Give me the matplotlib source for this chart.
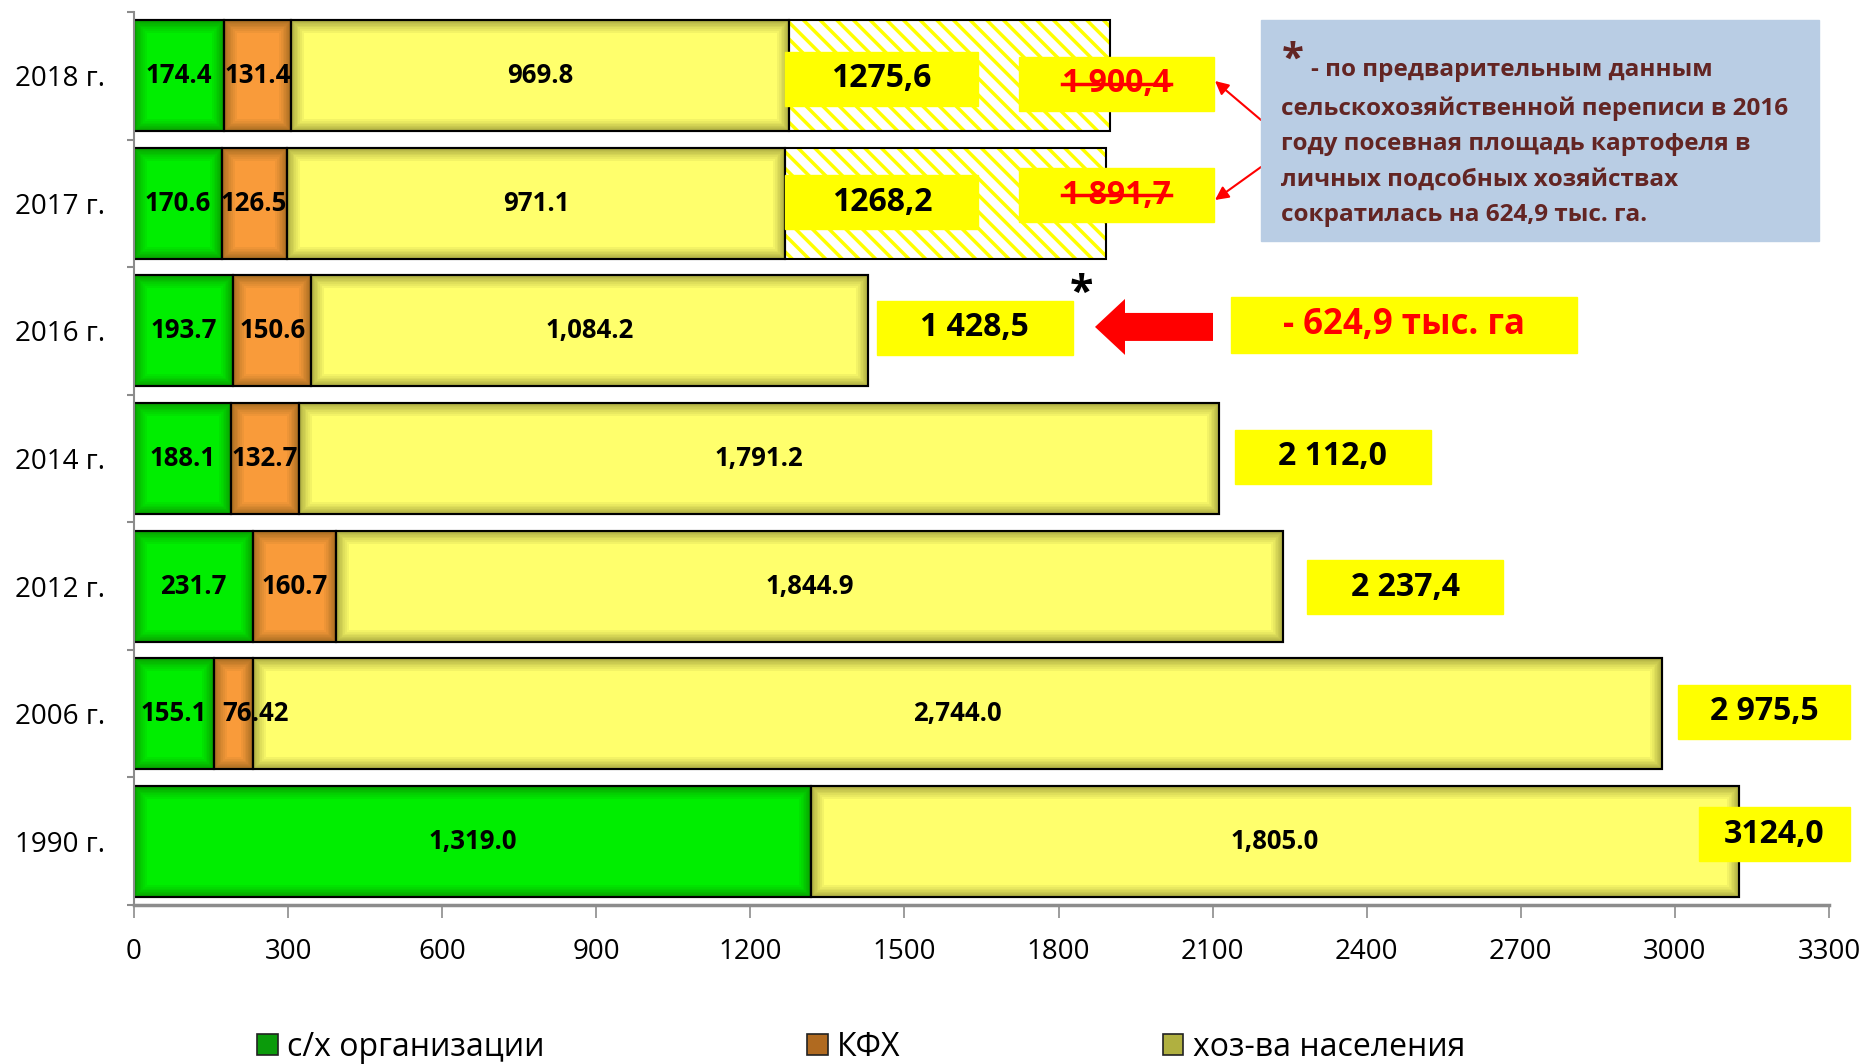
import numpy as np
import matplotlib
matplotlib.use('Agg')
import matplotlib.pyplot as plt
from matplotlib.patches import Rectangle, FancyArrow, Patch
from matplotlib.lines import Line2D
from matplotlib.transforms import IdentityTransform

plt.rcParams['font.family'] = ['Open Sans', 'DejaVu Sans']
plt.rcParams['hatch.linewidth'] = 2.5

# ---- data (bottom row first) ----
years = ['1990 г.', '2006 г.', '2012 г.', '2014 г.', '2016 г.', '2017 г.', '2018 г.']
agro_org = [1319.0, 155.1, 231.7, 188.1, 193.7, 170.6, 174.4]
kfh = [0.0, 76.42, 160.7, 132.7, 150.6, 126.5, 131.4]
households = [1805.0, 2744.0, 1844.9, 1791.2, 1084.2, 971.1, 969.8]
total_labels = ['3124,0', '2 975,5', '2 237,4', '2 112,0', '1 428,5', '1268,2', '1275,6']

# totals before the 2016 census correction
old_years = ['2017 г.', '2018 г.']
old_totals = [1891.7, 1900.4]
old_labels = ['1 891,7', '1 900,4']

drop_label = '- 624,9 тыс. га'
legend_names = ['с/х организации', 'КФХ', 'хоз-ва населения']
xticks = list(range(0, 3301, 300))
note_lines = ['сельскохозяйственной переписи в 2016',
              'году посевная площадь картофеля в',
              'личных подсобных хозяйствах',
              'сократилась на 624,9 тыс. га.']

# ---- style ----
W, H = 1874, 1064
green, orange, yellow = '#00ee00', '#f99b3a', '#ffff6c'
grey = '#8c8c8c'
bh = 0.87
# label boxes: offset from bar end (px), width (px), vertical shift (px, down)
lab_dx = [-40, 16, 24, 16, 9, 0, -4]
lab_w = [151, 172, 196, 196, 196, 193, 193]
lab_dy = [-7, -2, 1, -2, -3, -1, 3]
old_dx = [-87, -91]
old_dy = [-8, 8]
box_h = 54

fig = plt.figure(figsize=(W / 100, H / 100), dpi=100)
ax = fig.add_axes([134 / W, 1 - 905 / H, (1829 - 134) / W, (905 - 12) / H])
ax.set_xlim(0, 3300)
ax.set_ylim(-0.5, len(years) - 0.5)

y = np.arange(len(years))
a = np.array(agro_org)
k = np.array(kfh)
hh = np.array(households)
tot = a + k + hh

b1 = ax.barh(y, a, height=bh, color=green, edgecolor='black', lw=1.5, zorder=2)
b2 = ax.barh(y, k, left=a, height=bh, color=orange, edgecolor='black', lw=1.5, zorder=2)
b3 = ax.barh(y, hh, left=a + k, height=bh, color=yellow, edgecolor='black', lw=1.5, zorder=2)

# soft inner shadow like the original
for bars in (b1, b2, b3):
    for p in bars:
        if p.get_width() <= 0:
            continue
        for lw in (18, 15, 12, 10, 8, 6, 4, 2.5):
            g = Rectangle(p.get_xy(), p.get_width(), p.get_height(), fill=False,
                          edgecolor=(0.15, 0.15, 0, 0.05), lw=lw, zorder=2.1)
            ax.add_patch(g)
            g.set_clip_path(p)
        ax.add_patch(Rectangle(p.get_xy(), p.get_width(), p.get_height(), fill=False,
                               edgecolor='black', lw=1.5, zorder=2.2))

# hatched part up to the old totals
iy = np.array([years.index(s) for s in old_years])
ext = np.array(old_totals) - tot[iy]
ax.barh(y[iy], ext, left=tot[iy], height=bh, color='white', edgecolor='#ffff00',
        hatch='\\\\', lw=0, zorder=2)
ax.barh(y[iy], ext, left=tot[iy], height=bh, fill=False, edgecolor='black', lw=1.5, zorder=2.2)


def fmt(v):
    return f'{v:,.2f}' if round(v, 1) != v else f'{v:,.1f}'


for bars, vals in ((b1, a), (b2, k), (b3, hh)):
    for p, v in zip(bars, vals):
        if v <= 0:
            continue
        cy = p.get_y() + p.get_height() / 2
        if v < 100:
            # narrow segment: label starts at the segment and spills over
            ax.annotate(fmt(v), (p.get_x(), cy), xytext=(6, 0), textcoords='offset points',
                        ha='left', va='center', fontsize=18.5, fontweight='bold', zorder=5)
        else:
            ax.text(p.get_x() + p.get_width() / 2, cy, fmt(v),
                    ha='center', va='center', fontsize=18.5, fontweight='bold', zorder=5)

ident = IdentityTransform()
ren = fig.canvas.get_renderer()

# total labels in yellow boxes
for i in range(len(years)):
    px, py = ax.transData.transform((tot[i], y[i]))
    x0 = px + lab_dx[i]
    cy = py - lab_dy[i]
    ax.add_patch(Rectangle((x0, cy - box_h / 2), lab_w[i], box_h, color='#ffff00',
                           transform=ident, zorder=4, clip_on=False))
    ax.text(x0 + lab_w[i] / 2, cy, total_labels[i], transform=ident, ha='center', va='center',
            fontsize=23, fontweight='bold', zorder=5, clip_on=False)

# old (crossed out) totals
for j in range(len(old_years)):
    px, py = ax.transData.transform((old_totals[j], y[iy[j]]))
    x0 = px + old_dx[j]
    cy = py - old_dy[j]
    ax.add_patch(Rectangle((x0, cy - box_h / 2), 195, box_h, color='#ffff00',
                           transform=ident, zorder=4, clip_on=False))
    t = ax.text(x0 + 97.5, cy, old_labels[j], transform=ident, ha='center', va='center',
                fontsize=23, fontweight='bold', color='red', zorder=5, clip_on=False)
    bb = t.get_window_extent(renderer=ren)
    ax.add_line(Line2D([bb.x0, bb.x1], [bb.y0 + bb.height * 0.5] * 2, color='red', lw=2.5,
                       transform=ident, zorder=6, clip_on=False))

# big red arrow at 2016 row
i16 = years.index('2016 г.')
_, py16 = ax.transData.transform((0, y[i16]))
ay = py16 + 4
fig.add_artist(FancyArrow(1213, ay, -118, 0, width=28, head_width=56, head_length=30,
                          length_includes_head=True, color='red', lw=0, transform=ident))
fig.text(1081, ay + 32, '*', transform=ident, ha='center', va='center', fontsize=31,
         fontweight='bold')
fig.add_artist(Rectangle((1231, ay - 26), 346, 56, color='#ffff00', transform=ident))
fig.text(1404, ay + 2, drop_label, transform=ident, ha='center', va='center', fontsize=25,
         fontweight='bold', color='red')

# note box
fig.add_artist(Rectangle((1261, H - 241), 558, 221, color='#b9cde4', transform=ident))
note_c = '#632523'
fig.text(1293, H - 60, '*', transform=ident, ha='center', va='center', fontsize=29,
         fontweight='bold', color=note_c)
fig.text(1311, H - 70, '- по предварительным данным', transform=ident, ha='left',
         va='center', fontsize=17.5, fontweight='bold', color=note_c)
for n, line in enumerate(note_lines):
    fig.text(1281, H - 109 - n * 35.3, line, transform=ident, ha='left', va='center',
             fontsize=17.5, fontweight='bold', color=note_c)

# thin red arrows from the note to the crossed-out numbers
for tail, head in (((1261, H - 120), (1215, H - 81)), ((1261, H - 167), (1215, H - 200))):
    ax.annotate('', xy=head, xytext=tail, xycoords='figure pixels', textcoords='figure pixels',
                arrowprops=dict(arrowstyle='-|>', color='red', lw=1.5, mutation_scale=20,
                                shrinkA=0, shrinkB=0))

# axes
for s in ('top', 'right'):
    ax.spines[s].set_visible(False)
ax.spines['left'].set_color(grey)
ax.spines['left'].set_linewidth(1.5)
ax.spines['bottom'].set_color(grey)
ax.spines['bottom'].set_linewidth(2.5)
ax.set_xticks(xticks)
ax.tick_params(axis='x', length=9.5, width=1.2, color=grey, labelsize=20, pad=14)
ax.set_yticks(y)
ax.set_yticklabels(years)
ax.set_yticks(np.arange(len(years) + 1) - 0.5, minor=True)
ax.tick_params(axis='y', which='major', length=0, labelsize=20, pad=21)
ax.tick_params(axis='y', which='minor', length=5, width=1.5, color=grey)

handles = [Patch(facecolor=c, edgecolor='#222222', lw=1.2) for c in ('#0b9b0b', '#b06a20', '#b0b040')]
fig.legend(handles, legend_names, loc='center left', bbox_to_anchor=(257 / W, 1 - 1047 / H),
           ncol=3, frameon=False, fontsize=23, handlelength=0.65, handleheight=0.65,
           handletextpad=0.3, columnspacing=8.2, borderpad=0, borderaxespad=0)

fig.savefig('out.png', dpi=100)
